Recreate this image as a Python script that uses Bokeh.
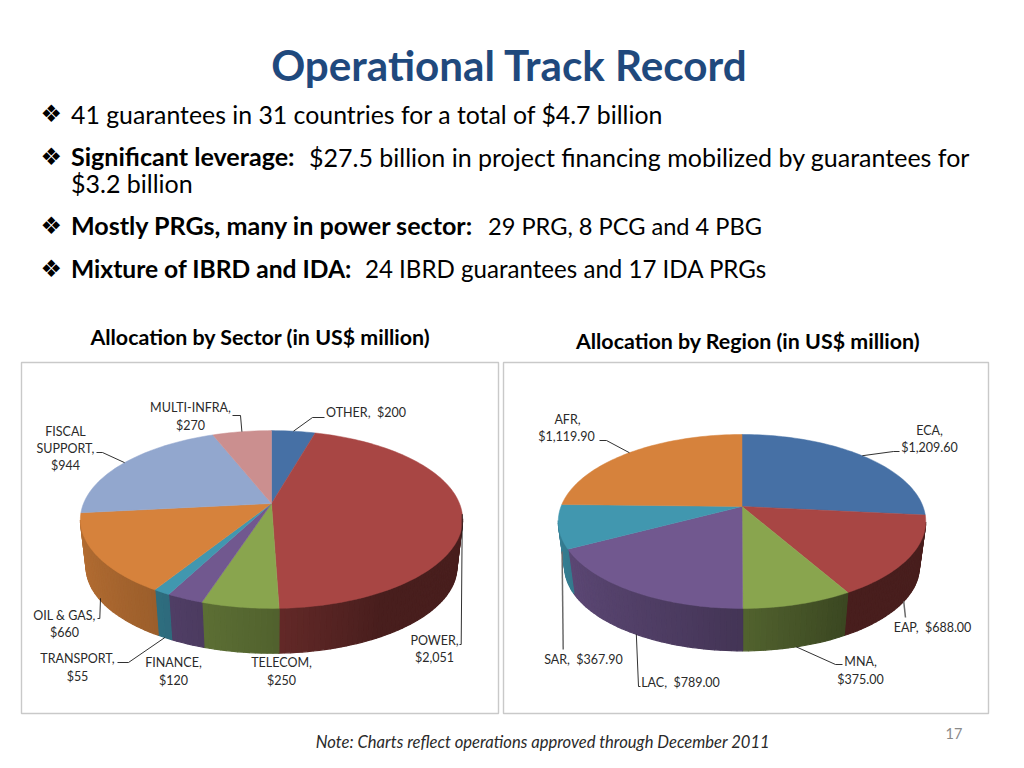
import math
from bokeh.plotting import figure
from bokeh.models import Range1d
from bokeh.core.properties import value
from bokeh.embed import file_html
from bokeh.resources import INLINE

# ---------- data ----------
sector_names = ["OTHER", "POWER", "TELECOM", "FINANCE", "TRANSPORT", "OIL & GAS", "FISCAL SUPPORT", "MULTI-INFRA"]
sector_values = [200, 2051, 250, 120, 55, 660, 944, 270]
region_names = ["ECA", "EAP", "MNA", "LAC", "SAR", "AFR"]
region_values = [1209.6, 688.0, 375.0, 789.0, 367.9, 1119.9]

# ---------- styles ----------
sector_colors = ["#4670A5", "#A84644", "#89A54E", "#71588F", "#4197AF", "#D6823C", "#92A7CE", "#CB8F8F"]
region_colors = ["#4670A5", "#A84644", "#89A54E", "#71588F", "#4197AF", "#D6823C"]
FONT = value("Lato")
INK = "#000000"
LABEL_INK = "#2a2a2a"

p = figure(width=1008, height=752, x_range=Range1d(0, 1008), y_range=Range1d(752, 0),
           toolbar_location=None, output_backend="svg", min_border=0,
           background_fill_color="white", border_fill_color="white", outline_line_color=None)
p.axis.visible = False
p.grid.visible = False


def shade(hex_color, f):
    r, g, b = (int(hex_color[i:i + 2], 16) for i in (1, 3, 5))
    return "#%02x%02x%02x" % (int(r * f), int(g * f), int(b * f))


class Pie:
    def __init__(self, cx, cy, R, H, k, dy, shrink):
        self.cx, self.cy, self.R, self.H, self.k, self.dy, self.shrink = cx, cy, R, H, k, dy, shrink

    def pt(self, a, d=0.0):
        """Project the rim at clockwise angle a (rad from top); d=0 top rim, d=1 bottom rim."""
        u, v = math.sin(a), math.cos(a)
        s = 1.0 / (1.0 + self.k * v)
        m = 1.0 + (self.shrink - 1.0) * d
        return self.cx + self.R * m * u * s, self.cy + self.dy * d - self.H * m * v * s


def side_factor(a):
    # light falls from the left on the pie wall
    u = math.sin(a)
    return 0.60 - 0.24 * u if u < 0 else max(0.43, 0.60 - 0.34 * u)


def draw_pie(pie, values, colors):
    total = sum(values)
    edges = [0.0]
    for val in values:
        edges.append(edges[-1] + val / total * 2 * math.pi)
    xs, ys, cols = [], [], []
    for i, col in enumerate(colors):
        n = max(2, int((edges[i + 1] - edges[i]) / math.radians(1.5)))
        angs = [edges[i] + (edges[i + 1] - edges[i]) * j / n for j in range(n + 1)]
        for a0, a1 in zip(angs[:-1], angs[1:]):
            if math.cos((a0 + a1) / 2) > -pie.k:
                continue
            x0, y0 = pie.pt(a0)
            x1, y1 = pie.pt(a1)
            x2, y2 = pie.pt(a1, 1)
            x3, y3 = pie.pt(a0, 1)
            xs.append([x0, x1, x2, x3])
            ys.append([y0, y1, y2, y3])
            cols.append(shade(col, side_factor((a0 + a1) / 2)))
    p.patches(xs, ys, fill_color=cols, line_color=cols, line_width=1.2)
    txs, tys = [], []
    for i in range(len(colors)):
        n = max(2, int((edges[i + 1] - edges[i]) / math.radians(1.5)))
        rim = [pie.pt(edges[i] + (edges[i + 1] - edges[i]) * j / n) for j in range(n + 1)]
        txs.append([pie.cx] + [q[0] for q in rim])
        tys.append([pie.cy] + [q[1] for q in rim])
    p.patches(txs, tys, fill_color=colors, line_color=colors, line_width=0.5)
    return edges


def draw_leaders(pie, edges, leaders, color="#1a1a1a", width=0.9):
    xs, ys = [], []
    for idx, d, path in leaders:
        x0, y0 = pie.pt((edges[idx] + edges[idx + 1]) / 2, d)
        xs.append([x0] + [q[0] for q in path])
        ys.append([y0] + [q[1] for q in path])
    p.multi_line(xs, ys, line_color=color, line_width=width)


# chart frames
p.quad(left=[21, 503], right=[498, 988], top=[362, 362], bottom=[713, 713],
       fill_color="white", line_color="#c9c9c9", line_width=1.4)

sector_pie = Pie(271, 503, 188, 86, 0.18, 48, 0.97)
region_pie = Pie(741.5, 506, 181, 84.4, 0.172, 46, 0.965)
sector_edges = draw_pie(sector_pie, sector_values, sector_colors)
region_edges = draw_pie(region_pie, region_values, region_colors)

# leader lines: slice index, position on the wall, elbow points
draw_leaders(sector_pie, sector_edges, [
    (0, 0, [(312, 417), (324, 417)]),
    (7, 0, [(240, 415), (232, 415)]),
    (6, 0, [(102, 452), (96, 452)]),
    (5, 0.95, [(99.3, 618), (97, 618)]),
    (4, 1, [(128, 662), (117, 662)]),
    (1, 0, [(460.7, 644), (459, 644)]),
])
draw_leaders(region_pie, region_edges, [
    (0, 0, [(893, 451), (899, 451)]),
    (2, 1, [(835, 664), (842, 664)]),
    (3, 1, [(638, 686), (640, 686)]),
    (5, 0, [(606, 440), (599, 440)]),
])
draw_leaders(region_pie, region_edges, [
    (1, 1, [(905, 617)]),
    (4, 0.55, [(562.7, 649)]),
], color="#6b6b6b", width=1.5)


def txt(x, y, s, size, color=INK, style="normal", align="left", font=FONT):
    lift = 0.36 if size < 18 else 0.40
    p.text(x=[x], y=[y - lift * size], text=[s], text_font=font, text_font_size="%.2fpx" % size,
           text_color=color, text_font_style=style, text_align=align, text_baseline="alphabetic")


# slide texts
txt(509, 81, "Operational Track Record", 42.2, "#1F497D", "bold", "center")
BULLET = value("DejaVu Sans")
for by in (123, 166, 235, 278):
    txt(40, by, "\u2756", 24, font=BULLET)
txt(70.5, 123, "41 guarantees in 31 countries for a total of $4.7 billion", 24.83)
txt(70.5, 166, "Significant leverage:", 25.1, style="bold")
txt(308.5, 166, "$27.5 billion in project financing mobilized by guarantees for", 25.0)
txt(70.5, 192, "$3.2 billion", 25.0)
txt(70.5, 235, "Mostly PRGs, many in power sector:", 25.1, style="bold")
txt(487.5, 235, "29 PRG, 8 PCG and 4 PBG", 23.6)
txt(70.5, 278, "Mixture of IBRD and IDA:", 24.6, style="bold")
txt(364.5, 278, "24 IBRD guarantees and 17 IDA PRGs", 24.1)
txt(260, 345, "Allocation by Sector (in US$ million)", 21.4, style="bold", align="center")
txt(747.5, 349, "Allocation by Region (in US$ million)", 21.4, style="bold", align="center")
txt(542.5, 747, "Note: Charts reflect operations approved through December 2011", 16.6, LABEL_INK, "italic", "center")
txt(953.5, 738, "17", 14.5, "#8a8a8a", align="center")

# data labels: text, centre x, baseline y
labels = [
    ("MULTI-INFRA,", 190, 411), ("$270", 190, 429), ("OTHER, \u00a0$200", 365.5, 416),
    ("FISCAL", 65, 435), ("SUPPORT,", 65, 452), ("$944", 65, 469),
    ("OIL & GAS,", 64, 619), ("$660", 64, 636),
    ("TRANSPORT,", 77, 662), ("$55", 77, 680),
    ("FINANCE,", 173, 666), ("$120", 173, 684),
    ("TELECOM,", 281, 666), ("$250", 281, 684),
    ("POWER,", 434, 644), ("$2,051", 434, 661),
    ("AFR,", 567, 423), ("$1,119.90", 566, 440),
    ("ECA,", 929, 434), ("$1,209.60", 929, 451),
    ("EAP, \u00a0$688.00", 932, 631),
    ("MNA,", 860, 665), ("$375.00", 860, 683),
    ("LAC, \u00a0$789.00", 680, 686),
    ("SAR, \u00a0$367.90", 583, 663),
]
for s, x, y in labels:
    txt(x, y, s, 12.5, LABEL_INK, align="center")

open("out.html", "w").write(file_html(p, INLINE))
